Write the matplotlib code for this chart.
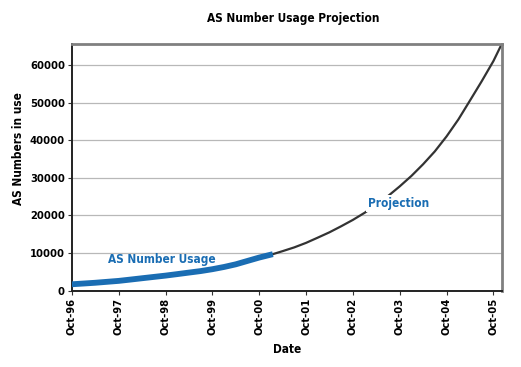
from datetime import datetime

import matplotlib.pyplot as plt
import matplotlib.dates as mdates

plt.rcParams["font.family"] = ["DejaVu Sans"]
plt.rcParams["font.stretch"] = "condensed"

# observed usage (quarterly reads)
usage_dates = ["1996-10-01", "1997-01-01", "1997-04-01", "1997-07-01", "1997-10-01",
               "1998-01-01", "1998-04-01", "1998-07-01", "1998-10-01", "1999-01-01",
               "1999-04-01", "1999-07-01", "1999-10-01", "2000-01-01", "2000-04-01",
               "2000-07-01", "2000-10-01", "2001-01-15"]
usage_values = [1700, 1900, 2100, 2350, 2600, 2950, 3300, 3650, 4000, 4400,
                4800, 5200, 5700, 6300, 7000, 7900, 8800, 9700]

# projection
proj_dates = ["2001-01-15", "2001-04-01", "2001-07-01", "2001-10-01", "2002-01-01",
              "2002-04-01", "2002-07-01", "2002-10-01", "2003-01-01", "2003-04-01",
              "2003-07-01", "2003-10-01", "2004-01-01", "2004-04-01", "2004-07-01",
              "2004-10-01", "2005-01-01", "2005-04-01", "2005-07-01", "2005-10-01",
              "2005-12-05"]
proj_values = [9700, 10500, 11500, 12700, 14100, 15500, 17100, 18800, 20700, 22800,
               25100, 27700, 30500, 33600, 37000, 41000, 45500, 50500, 55600, 61000,
               65536]

YEARS = list(range(1996, 2006))


def to_dates(items):
    return [datetime.strptime(s, "%Y-%m-%d") for s in items]


def main() -> None:
    fig = plt.figure(figsize=(5.21, 3.67), dpi=100, facecolor="white")
    ax = fig.add_axes([0.138, 0.208, 0.825, 0.672])

    ax.plot(to_dates(proj_dates), proj_values, color="#333333", lw=1.6, zorder=2)
    ax.plot(to_dates(usage_dates), usage_values, color="#1a6db3", lw=4.2,
            solid_capstyle="butt", zorder=3)

    ax.text(datetime(1997, 7, 10), 8200, "AS Number Usage", color="#1a6db3",
            fontsize=8.5, weight="bold", ha="left", va="center", zorder=4)
    ax.text(datetime(2003, 1, 25), 23100, "Projection", color="#1a6db3",
            fontsize=8.5, weight="bold", ha="left", va="center", zorder=4,
            bbox=dict(facecolor="white", edgecolor="none", pad=1.5))

    ax.set_xlim(datetime(1996, 10, 1), datetime(2005, 12, 5))
    ax.set_ylim(0, 65536)
    ax.set_yticks(range(0, 60001, 10000))
    ax.set_xticks([datetime(y, 10, 1) for y in YEARS])
    ax.xaxis.set_major_formatter(mdates.DateFormatter("%b-%y"))
    plt.setp(ax.get_xticklabels(), rotation=90, fontsize=8, weight="bold")
    plt.setp(ax.get_yticklabels(), fontsize=8, weight="bold")

    ax.grid(axis="y", color="#b8b8b8", lw=0.9)
    ax.set_axisbelow(True)
    ax.tick_params(axis="both", direction="out", length=3, width=0.8, color="#333333", pad=2)

    for side in ("top", "right"):
        ax.spines[side].set_color("#808080")
        ax.spines[side].set_linewidth(2)
    for side in ("left", "bottom"):
        ax.spines[side].set_color("#222222")
        ax.spines[side].set_linewidth(1.4)

    ax.set_ylabel("AS Numbers in use", fontsize=8.5, weight="bold")
    ax.yaxis.set_label_coords(-0.108, 0.578)
    ax.set_xlabel("Date", fontsize=8.5, weight="bold", labelpad=6)
    fig.text(0.563, 0.95, "AS Number Usage Projection", ha="center", va="center",
             fontsize=8.5, weight="bold")

    fig.savefig("out.png", dpi=100)
    plt.close(fig)


if __name__ == "__main__":
    main()
